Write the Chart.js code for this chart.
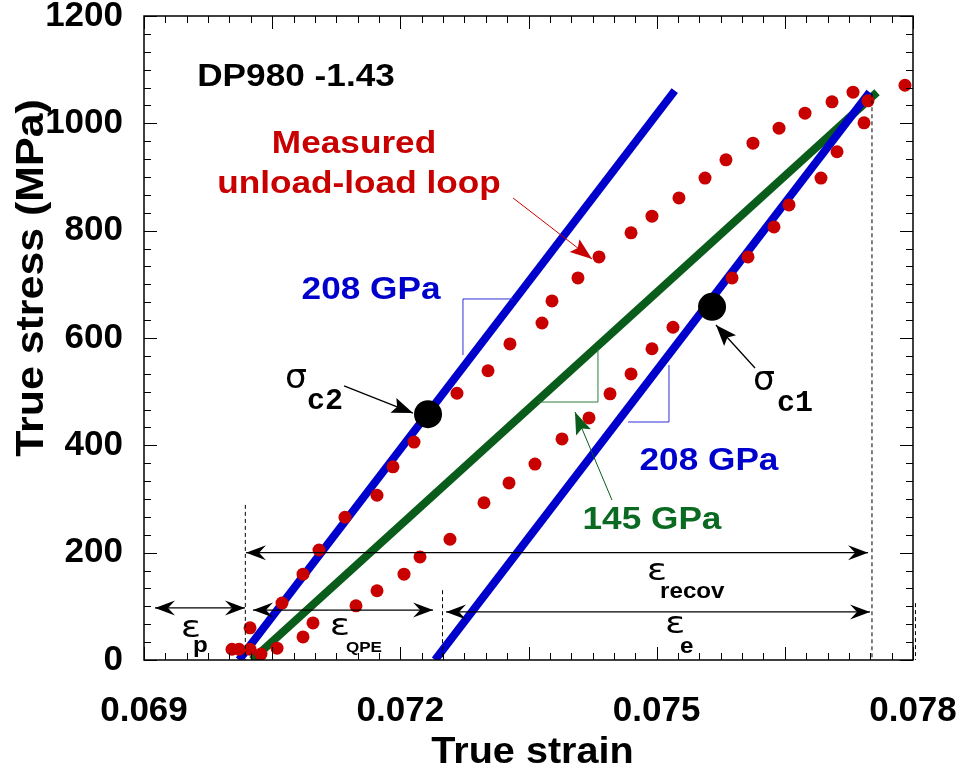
<!DOCTYPE html>
<html><head><meta charset="utf-8">
<script src="https://cdn.jsdelivr.net/npm/chart.js@4.4.1/dist/chart.umd.min.js"></script>
<style>html,body{margin:0;padding:0;background:#fff;}#wrap{width:959px;height:767px;}</style>
</head><body><div id="wrap"><canvas id="c" width="959" height="767"></canvas></div>
<script>
// ---- axis ticks ----
const xTickValues = [0.069, 0.072, 0.075, 0.078];
const xTickLabels = ['0.069', '0.072', '0.075', '0.078'];
const yTickValues = [0, 200, 400, 600, 800, 1000, 1200];
const yTickLabels = ['0', '200', '400', '600', '800', '1000', '1200'];

// ---- measured unload-load loop (red dots) ----
const unloadStrain = [0.077473, 0.077427, 0.077111, 0.076923, 0.076549, 0.076373, 0.076069, 0.075882,
  0.075191, 0.074945, 0.074700, 0.074454, 0.074208, 0.073892, 0.073576, 0.073272, 0.072979, 0.072581,
  0.072230, 0.072043, 0.071727, 0.071481, 0.070978, 0.070861, 0.070557, 0.070369, 0.070241, 0.070112, 0.070030];
const unloadStress = [1042, 1001, 947, 898, 848, 807, 751, 712,
  620, 580, 533, 496, 451, 412, 365, 330, 293, 225,
  192, 160, 129, 101, 69, 43, 22, 11, 20, 20, 20];
const reloadStrain = [0.070241, 0.070615, 0.070861, 0.071048, 0.071352, 0.071727, 0.071914, 0.072160,
  0.072663, 0.073026, 0.073283, 0.073658, 0.073775, 0.074079, 0.074325, 0.074700, 0.074945, 0.075261,
  0.075566, 0.075811, 0.076127, 0.076432, 0.076736, 0.077052, 0.077298, 0.077906];
const reloadStress = [60, 106, 160, 205, 266, 307, 360, 406,
  497, 539, 589, 628, 669, 712, 751, 796, 827, 861,
  898, 932, 963, 991, 1019, 1040, 1058, 1071];

// ---- elastic lines ----
const reloadElasticStrain = [0.070112, 0.075212];   // 208 GPa
const reloadElasticStress = [0, 1061];
const unloadElasticStrain = [0.072406, 0.077493];   // 208 GPa
const unloadElasticStress = [0, 1058];
const chordStrain = [0.070264, 0.077579];           // 145 GPa
const chordStress = [0, 1058];

// ---- critical points sigma_c2, sigma_c1 ----
const criticalStrain = [0.072324, 0.075648];
const criticalStress = [458, 658];

const pts = (xs, ys) => xs.map((x, i) => ({x: x, y: ys[i]}));

const FONT = '"Liberation Sans", Arial, Helvetica, sans-serif';
const BLUE = '#0000cc', GREEN = '#0a5c1a', RED = '#c80000';

function stretchText(ctx, text, x, y, font, color, align, sx) {
  ctx.save();
  ctx.font = font; ctx.fillStyle = color;
  ctx.textAlign = align || 'center'; ctx.textBaseline = 'alphabetic';
  ctx.translate(x, y); ctx.scale(sx || 1.1, 1);
  ctx.fillText(text, 0, 0);
  ctx.restore();
}
function arrowHead(ctx, x1, y1, x2, y2, len, half, notch, color) {
  const ang = Math.atan2(y2 - y1, x2 - x1);
  ctx.save();
  ctx.translate(x2, y2); ctx.rotate(ang);
  ctx.fillStyle = color;
  ctx.beginPath();
  ctx.moveTo(0, 0); ctx.lineTo(-len, half); ctx.lineTo(-len + notch, 0); ctx.lineTo(-len, -half);
  ctx.closePath(); ctx.fill();
  ctx.restore();
}
function arrow(ctx, x1, y1, x2, y2, color, lw, len, half, notch, both) {
  ctx.save();
  ctx.strokeStyle = color; ctx.lineWidth = lw;
  ctx.beginPath(); ctx.moveTo(x1, y1); ctx.lineTo(x2, y2); ctx.stroke();
  ctx.restore();
  arrowHead(ctx, x1, y1, x2, y2, len, half, notch, color);
  if (both) arrowHead(ctx, x2, y2, x1, y1, len, half, notch, color);
}

const annotations = {
  id: 'annotations',
  afterDatasetsDraw(chart) {
    const ctx = chart.ctx, xs = chart.scales.x, ys = chart.scales.y, a = chart.chartArea;
    const X = v => xs.getPixelForValue(v), Y = v => ys.getPixelForValue(v);

    // frame
    ctx.save();
    ctx.strokeStyle = '#000'; ctx.lineWidth = 1.5;
    ctx.strokeRect(a.left, a.top, a.right - a.left, a.bottom - a.top);
    // inward ticks
    ctx.lineWidth = 1;
    ctx.beginPath();
    for (let i = 0; i <= 36; i++) {
      const v = 0.069 + i * 0.00025, px = Math.round(X(v)) + 0.5;
      const L = (i % 6 === 0) ? 13 : 7;
      ctx.moveTo(px, a.bottom); ctx.lineTo(px, a.bottom - L);
      ctx.moveTo(px, a.top); ctx.lineTo(px, a.top + L);
    }
    for (let i = 0; i <= 36; i++) {
      const v = i * 200 / 6, py = Math.round(Y(v)) + 0.5;
      const L = (i % 6 === 0) ? 13 : 7;
      ctx.moveTo(a.left, py); ctx.lineTo(a.left + L, py);
      ctx.moveTo(a.right, py); ctx.lineTo(a.right - L, py);
    }
    ctx.stroke();

    // dashed reference lines
    ctx.setLineDash([4, 3]);
    ctx.lineWidth = 1;
    [[0.07018, 289], [0.072488, 130], [0.077514, 1056], [0.078023, 106]].forEach(d => {
      ctx.beginPath(); ctx.moveTo(X(d[0]) + 0.5, Y(d[1])); ctx.lineTo(X(d[0]) + 0.5, Y(0)); ctx.stroke();
    });
    ctx.setLineDash([]);

    // slope brackets
    ctx.lineWidth = 1;
    ctx.strokeStyle = '#3030d8';
    ctx.beginPath(); ctx.moveTo(X(0.073319), Y(672.7)); ctx.lineTo(X(0.072733), Y(672.7)); ctx.lineTo(X(0.072733), Y(568.3)); ctx.stroke();
    ctx.beginPath(); ctx.moveTo(X(0.075144), Y(549.7)); ctx.lineTo(X(0.075144), Y(443.5)); ctx.lineTo(X(0.074665), Y(443.5)); ctx.stroke();
    ctx.strokeStyle = '#2f7d3c';
    ctx.beginPath(); ctx.moveTo(X(0.074313), Y(579.5)); ctx.lineTo(X(0.074313), Y(480.7)); ctx.lineTo(X(0.073611), Y(480.7)); ctx.stroke();
    ctx.restore();

    // dimension arrows
    arrow(ctx, X(0.069129), Y(97), X(0.070182), Y(97), '#000', 1.2, 20, 7.5, 7, true);
    arrow(ctx, X(0.070276), Y(93), X(0.072383), Y(93), '#000', 1.2, 20, 7.5, 7, true);
    arrow(ctx, X(0.070194), Y(200), X(0.077474), Y(200), '#000', 1.2, 20, 7.5, 7, true);
    arrow(ctx, X(0.072535), Y(89.5), X(0.077497), Y(89.5), '#000', 1.2, 20, 7.5, 7, true);

    // pointer arrows
    arrow(ctx, X(0.073319), Y(860.9), X(0.074243), Y(747.2), RED, 1, 22, 8, 4, false);
    arrow(ctx, X(0.074477), Y(298.1), X(0.074044), Y(462.1), GREEN, 1, 22, 8, 4, false);
    arrow(ctx, X(0.076151), Y(544.1), X(0.075694), Y(624.2), '#000', 1.3, 21, 8, 4, false);
    arrow(ctx, X(0.071341), Y(510.6), X(0.072148), Y(460.2), '#000', 1.3, 21, 8, 4, false);

    // texts
    const B32 = 'bold 32px ' + FONT;
    stretchText(ctx, 'DP980 -1.43', X(0.070779), Y(1069.6), B32, '#000');
    stretchText(ctx, 'Measured', X(0.071458), Y(944.7), B32, RED);
    stretchText(ctx, 'unload-load loop', X(0.071516), Y(870.2), B32, RED);
    stretchText(ctx, '208 GPa', X(0.071657), Y(672.7), B32, BLUE);
    stretchText(ctx, '208 GPa', X(0.075612), Y(354.0), B32, BLUE);
    stretchText(ctx, '145 GPa', X(0.074945), Y(244.1), B32, '#0b6a22');

    const SIG = '33px "DejaVu Sans", sans-serif';
    const MONO = 'bold 30px "Liberation Mono", "DejaVu Sans Mono", monospace';
    stretchText(ctx, 'σ', X(0.070779), Y(506.8), SIG, '#000', 'center', 1.05);
    stretchText(ctx, 'c2', X(0.070908), Y(467.7), MONO, '#000', 'left', 1);
    stretchText(ctx, 'σ', X(0.076256), Y(503.1), SIG, '#000', 'center', 1.05);
    stretchText(ctx, 'c1', X(0.076408), Y(464.0), MONO, '#000', 'left', 1);

    const EPS = '30px "DejaVu Sans", sans-serif';
    stretchText(ctx, 'ε', X(0.069550), Y(42.9), EPS, '#000', 'center', 1.25);
    stretchText(ctx, 'p', X(0.069573), Y(14.9), 'bold 22px ' + FONT, '#000', 'left');
    stretchText(ctx, 'ε', X(0.071294), Y(46.6), EPS, '#000', 'center', 1.25);
    stretchText(ctx, 'QPE', X(0.071364), Y(14.9), 'bold 15.5px ' + FONT, '#000', 'left');
    stretchText(ctx, 'ε', X(0.075004), Y(149.1), EPS, '#000', 'center', 1.25);
    stretchText(ctx, 'recov', X(0.075039), Y(115.5), 'bold 22px ' + FONT, '#000', 'left');
    stretchText(ctx, 'ε', X(0.075215), Y(50.3), EPS, '#000', 'center', 1.25);
    stretchText(ctx, 'e', X(0.075273), Y(13.0), 'bold 22px ' + FONT, '#000', 'left');

    // axis titles
    stretchText(ctx, 'True strain', (a.left + a.right) / 2 + 4, a.bottom + 103, 'bold 36px ' + FONT, '#000', 'center');
    ctx.save();
    ctx.translate(a.left - 101, a.top + 262);
    ctx.rotate(-Math.PI / 2);
    ctx.scale(1.1, 1);
    ctx.font = 'bold 39px ' + FONT; ctx.fillStyle = '#000';
    ctx.textAlign = 'center'; ctx.textBaseline = 'alphabetic';
    ctx.fillText('True stress (MPa)', 0, 0);
    ctx.restore();
  }
};

new Chart(document.getElementById('c'), {
  type: 'scatter',
  data: {
    datasets: [
      {label: 'Critical stress', data: pts(criticalStrain, criticalStress), pointRadius: 14, backgroundColor: '#000', borderWidth: 0, order: 0},
      {label: 'Measured unloading', data: pts(unloadStrain, unloadStress), pointRadius: 6.5, backgroundColor: RED, borderWidth: 0, order: 1},
      {label: 'Measured reloading', data: pts(reloadStrain, reloadStress), pointRadius: 6.5, backgroundColor: RED, borderWidth: 0, order: 1},
      {label: '208 GPa reload', data: pts(reloadElasticStrain, reloadElasticStress), showLine: true, borderColor: BLUE, borderWidth: 8, pointRadius: 0, order: 2},
      {label: '208 GPa unload', data: pts(unloadElasticStrain, unloadElasticStress), showLine: true, borderColor: BLUE, borderWidth: 8, pointRadius: 0, order: 2},
      {label: '145 GPa chord', data: pts(chordStrain, chordStress), showLine: true, borderColor: GREEN, borderWidth: 8, pointRadius: 0, order: 3}
    ]
  },
  options: {
    responsive: false, animation: false, devicePixelRatio: 1,
    layout: {padding: {top: 16, right: 46, left: 0, bottom: 0}},
    plugins: {legend: {display: false}, tooltip: {enabled: false}},
    scales: {
      x: {
        type: 'linear', min: 0.069, max: 0.078,
        grid: {display: false, drawTicks: false}, border: {display: false},
        ticks: {font: {family: FONT, size: 35, weight: 'bold'}, color: '#000', padding: 30, maxRotation: 0, minRotation: 0, autoSkip: false,
          callback: (v, i) => xTickLabels[i]},
        afterBuildTicks: s => { s.ticks = xTickValues.map(v => ({value: v})); },
        afterFit: s => { s.height = 107; s.paddingLeft = 0; s.paddingRight = 0; }
      },
      y: {
        type: 'linear', min: 0, max: 1200,
        grid: {display: false, drawTicks: false}, border: {display: false},
        ticks: {font: {family: FONT, size: 35, weight: 'bold', lineHeight: 0.9}, color: '#000', padding: 21, autoSkip: false,
          callback: (v, i) => yTickLabels[i]},
        afterBuildTicks: s => { s.ticks = yTickValues.map(v => ({value: v})); },
        afterFit: s => { s.width = 144; s.paddingTop = 0; s.paddingBottom = 0; }
      }
    }
  },
  plugins: [annotations]
});
</script></body></html>
